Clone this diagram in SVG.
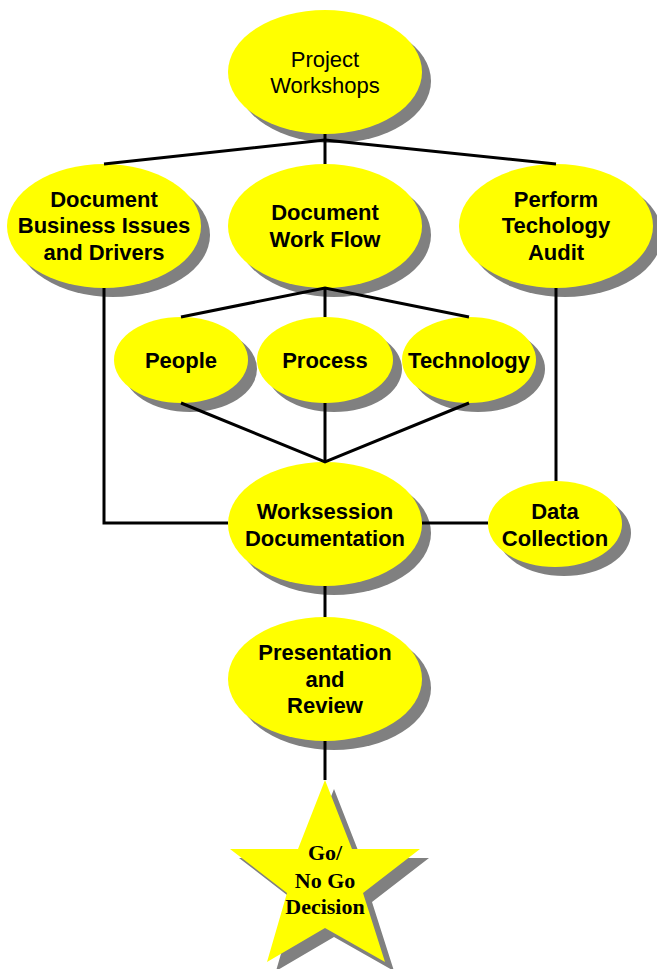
<svg xmlns="http://www.w3.org/2000/svg" width="657" height="969" viewBox="0 0 657 969">
  <style>
    .shadow { fill: #808080; }
    .body { fill: #ffff00; }
    .wire { stroke: #000; stroke-width: 3; fill: none; }
    .lbl { font-family: "Liberation Sans", Arial, sans-serif; font-size: 22px; font-weight: bold; text-anchor: middle; fill: #000; }
    .plain { font-weight: normal; }
    .serif { font-family: "Liberation Serif", "Times New Roman", serif; }
  </style>
  <defs>
    <polygon id="starShape" points="325,780 352,849 420,849 363,893 385,962 325,928 267,962 287,893 230,849 298,849"/>
  </defs>
  <rect width="657" height="969" fill="#fff"/>

  <g id="project-workshops">
    <ellipse class="shadow" cx="334" cy="81" rx="97" ry="62"/>
    <ellipse class="body" cx="325" cy="72" rx="97" ry="62"/>
    <text class="lbl plain" x="325" y="67">Project</text>
    <text class="lbl plain" x="325" y="93">Workshops</text>
  </g>

  <g id="business-issues">
    <ellipse class="shadow" cx="113" cy="235" rx="97" ry="62"/>
    <ellipse class="body" cx="104" cy="226" rx="97" ry="62"/>
    <text class="lbl" x="104" y="207">Document</text>
    <text class="lbl" x="104" y="233">Business Issues</text>
    <text class="lbl" x="104" y="260">and Drivers</text>
  </g>

  <g id="work-flow">
    <ellipse class="shadow" cx="334" cy="235" rx="97" ry="62"/>
    <ellipse class="body" cx="325" cy="226" rx="97" ry="62"/>
    <text class="lbl" x="325" y="220">Document</text>
    <text class="lbl" x="325" y="247">Work Flow</text>
  </g>

  <g id="technology-audit">
    <ellipse class="shadow" cx="565" cy="235" rx="97" ry="62"/>
    <ellipse class="body" cx="556" cy="226" rx="97" ry="62"/>
    <text class="lbl" x="556" y="207">Perform</text>
    <text class="lbl" x="556" y="233">Techology</text>
    <text class="lbl" x="556" y="260">Audit</text>
  </g>

  <g id="people">
    <ellipse class="shadow" cx="190" cy="369" rx="67" ry="43"/>
    <ellipse class="body" cx="181" cy="360" rx="67" ry="43"/>
    <text class="lbl" x="181" y="368">People</text>
  </g>

  <g id="process">
    <ellipse class="shadow" cx="334" cy="369" rx="68" ry="43"/>
    <ellipse class="body" cx="325" cy="360" rx="68" ry="43"/>
    <text class="lbl" x="325" y="368">Process</text>
  </g>

  <g id="technology">
    <ellipse class="shadow" cx="478" cy="369" rx="67" ry="43"/>
    <ellipse class="body" cx="469" cy="360" rx="67" ry="43"/>
    <text class="lbl" x="469" y="368">Technology</text>
  </g>

  <g id="worksession-documentation">
    <ellipse class="shadow" cx="334" cy="533" rx="97" ry="62"/>
    <ellipse class="body" cx="325" cy="524" rx="97" ry="62"/>
    <text class="lbl" x="325" y="519">Worksession</text>
    <text class="lbl" x="325" y="546">Documentation</text>
  </g>

  <g id="data-collection">
    <ellipse class="shadow" cx="564" cy="533" rx="67" ry="43"/>
    <ellipse class="body" cx="555" cy="524" rx="67" ry="43"/>
    <text class="lbl" x="555" y="519">Data</text>
    <text class="lbl" x="555" y="546">Collection</text>
  </g>

  <g id="presentation-review">
    <ellipse class="shadow" cx="334" cy="688" rx="97" ry="62"/>
    <ellipse class="body" cx="325" cy="679" rx="97" ry="62"/>
    <text class="lbl" x="325" y="660">Presentation</text>
    <text class="lbl" x="325" y="687">and</text>
    <text class="lbl" x="325" y="713">Review</text>
  </g>

  <g id="go-no-go">
    <use href="#starShape" class="shadow" x="9" y="9"/>
    <use href="#starShape" class="body"/>
    <text class="lbl serif" x="325" y="860">Go/</text>
    <text class="lbl serif" x="325" y="888">No Go</text>
    <text class="lbl serif" x="325" y="914">Decision</text>
  </g>

  <!-- links run from edge to edge and sit over the drop shadows -->
  <g id="connectors">
    <polyline class="wire" points="104,164 325,140 556,164"/>
    <line class="wire" x1="325" y1="134" x2="325" y2="164"/>
    <polyline class="wire" points="181,317 325,288 469,317"/>
    <line class="wire" x1="325" y1="288" x2="325" y2="317"/>
    <polyline class="wire" points="181,403 325,462 469,403"/>
    <line class="wire" x1="325" y1="403" x2="325" y2="462"/>
    <polyline class="wire" points="104,288 104,523 228,523"/>
    <line class="wire" x1="556" y1="288" x2="556" y2="481"/>
    <line class="wire" x1="422" y1="523" x2="488" y2="523"/>
    <line class="wire" x1="325" y1="586" x2="325" y2="617"/>
    <line class="wire" x1="325" y1="741" x2="325" y2="780"/>
  </g>
</svg>
